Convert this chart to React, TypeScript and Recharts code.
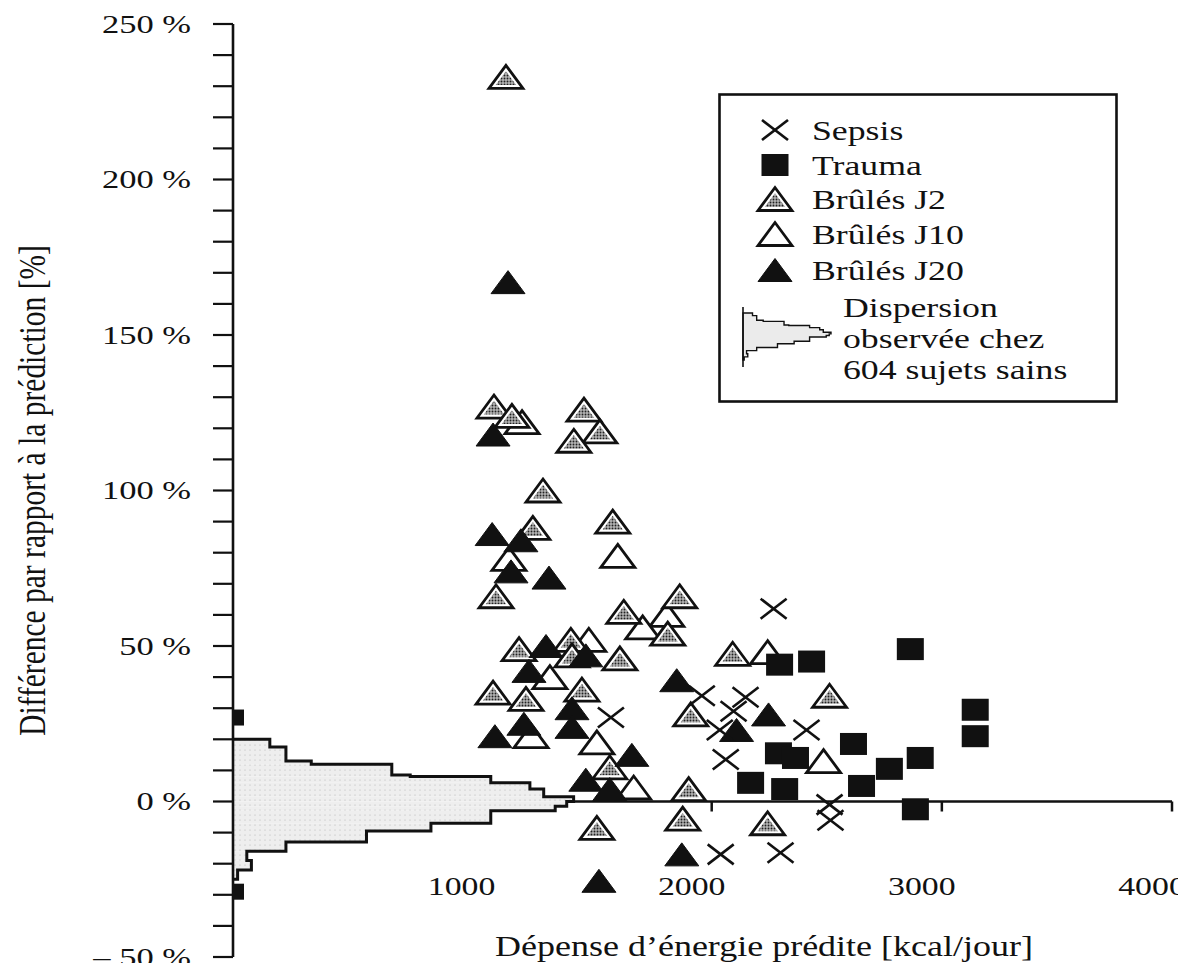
import React from "react";
import { ReferenceArea, ReferenceLine, Scatter, ScatterChart, XAxis, YAxis } from "recharts";

// axis ranges (the y axis sits slightly left of 0 kcal in the original figure)
const X_MIN = -80;
const X_MAX = 4000;
const Y_MIN = -50;
const Y_MAX = 250;

const xTicks = [1000, 2000, 3000, 4000];
const yTicks = [-50, -40, -30, -20, -10, 0, 10, 20, 30, 40, 50, 60, 70, 80, 90, 100, 110, 120, 130, 140, 150, 160, 170, 180, 190, 200, 210, 220, 230, 240, 250];

// Sepsis
const sepsisX = [1562, 1957, 2147, 2095, 2035, 2061, 2269, 2412, 2512, 2516, 2039, 2299];
const sepsisY = [27, 34, 33.5, 29, 23, 13.5, 62, 23, -1, -6, -17, -16.5];

// Trauma
const traumaX = [2295, 2434, 2863, 2290, 2364, 2169, 2317, 2616, 2651, 2772, 2906, 2885, 3145, 3145];
const traumaY = [44, 45, 49, 15.5, 14, 6, 4, 18.5, 5, 10.5, 14, -2.5, 29.5, 21];

// points pushed against the y axis
const edgeY = [27, -29];

// Brûlés J2
const j2X = [1106, 1054, 1132, 1445, 1514, 1401, 1267, 1223, 1570, 1063, 1618, 1861, 1809, 1163, 1388, 1393, 1601, 1050, 1193, 1436, 1909, 1557, 1900, 1501, 1874, 2091, 2512, 2243];
const j2Y = [233, 127, 124, 126, 119, 116, 100, 88, 90, 66, 61, 66, 54, 49, 52, 47, 46, 35, 33, 36, 28, 11, 4, -8.5, -5.5, 47.5, 34, -7];

// Brûlés J10
const j10X = [1176, 1119, 1592, 1805, 1700, 1466, 1297, 1215, 1501, 1661, 2243, 2486];
const j10Y = [122, 78, 79, 60, 56, 52, 40, 21, 19, 4.5, 48, 13];

// Brûlés J20
const j20X = [1115, 1050, 1046, 1171, 1128, 1293, 1280, 1453, 1206, 1393, 1393, 1184, 1058, 1848, 1653, 1453, 1557, 1870, 1510, 2247, 2108];
const j20Y = [167, 118, 86, 84, 74, 72, 50, 47, 42, 30, 24, 25, 21, 39, 15, 7, 4, -17, -25.5, 28, 23];

// healthy-subject dispersion histogram: bin edges (%) and how far each bar reaches
const histEdges = [20, 17.5, 13, 12, 8.5, 8, 6, 4, 1.5, 0, -1.5, -3, -7, -9.5, -13, -16, -19, -22, -25];
const histRight = [80, 150, 260, 610, 690, 1040, 1210, 1270, 1400, 1370, 1320, 1040, 780, 500, 150, -20, 0, -60];

const zip = (xs: number[], ys: number[]) => xs.map((x, i) => ({ x, y: ys[i] }));

const histMax = Math.max(...histRight);
const histOutline = [
  { x: X_MIN, y: histEdges[0] },
  ...histRight.flatMap((r, i) => [
    { x: r, y: histEdges[i] },
    { x: r, y: histEdges[i + 1] },
  ]),
  { x: X_MIN, y: histEdges[histEdges.length - 1] },
];

const INK = "#111";
const FONT = "'Liberation Serif', 'Times New Roman', serif";
const CHART_W = 1178;
const CHART_H = 955;
const MARGIN = { top: 16, right: 14, bottom: 0, left: 0 };
const Y_AXIS_W = 225;
const X_AXIS_H = 6;
const PLOT_H = CHART_H - MARGIN.top - MARGIN.bottom - X_AXIS_H;
const ZERO_Y = MARGIN.top + (PLOT_H * Y_MAX) / (Y_MAX - Y_MIN);

function triPoints(cx: number, cy: number, k = 1) {
  // triangle 34 wide x 23 tall, optionally shrunk about its incentre
  const ic = 2.93;
  const p = [
    [0, -11.5],
    [-17, 11.5],
    [17, 11.5],
  ];
  return p.map(([dx, dy]) => `${cx + dx * k},${cy + ic + (dy - ic) * k}`).join(" ");
}

const Cross = ({ cx, cy }: any) => (
  <g stroke={INK} strokeWidth={2.6}>
    <line x1={cx - 13} y1={cy - 10} x2={cx + 13} y2={cy + 10} />
    <line x1={cx - 13} y1={cy + 10} x2={cx + 13} y2={cy - 10} />
  </g>
);

const Square = ({ cx, cy }: any) => <rect x={cx - 13.5} y={cy - 11} width={27} height={22} fill={INK} />;

const EdgeMark = ({ cx, cy }: any) => <rect x={cx + 1} y={cy - 8} width={10} height={16} fill={INK} />;

const TriDotted = ({ cx, cy }: any) => (
  <g>
    <polygon points={triPoints(cx, cy)} fill="#fff" stroke={INK} strokeWidth={2.8} strokeLinejoin="miter" />
    <polygon points={triPoints(cx, cy, 0.6)} fill="url(#j2dots)" />
  </g>
);

const TriOpen = ({ cx, cy }: any) => (
  <polygon points={triPoints(cx, cy)} fill="#fff" stroke={INK} strokeWidth={2.8} strokeLinejoin="miter" />
);

const TriSolid = ({ cx, cy }: any) => (
  <polygon points={triPoints(cx, cy)} fill={INK} stroke={INK} strokeWidth={1} />
);

const NoDot = () => <g />;

// outline of the histogram, drawn through the points the scatter has already scaled
const HistLine = (props: any) => {
  const pts = (props.points || []).map((p: any) => `${p.x},${p.y}`).join(" ");
  return <polyline points={pts} fill="none" stroke={INK} strokeWidth={3} strokeLinejoin="miter" />;
};

function XTick({ x, payload }: any) {
  const v = payload.value;
  return (
    <g>
      {v > histMax && <line x1={x} x2={x} y1={ZERO_Y} y2={ZERO_Y + 10} stroke={INK} strokeWidth={2.5} />}
      <g transform={`translate(${x - 20},${ZERO_Y + 84}) scale(1.3,1)`}>
        <text textAnchor="middle" dy="0.35em" fontSize={26} fill={INK} fontFamily={FONT}>
          {v}
        </text>
      </g>
    </g>
  );
}

function YTick({ x, y, payload }: any) {
  const v = payload.value;
  if (v % 50 !== 0) return <g />;
  const label = v < 0 ? `– ${-v} %` : `${v} %`;
  return (
    <g transform={`translate(${x},${y}) scale(1.38,1)`}>
      <text textAnchor="end" dy="0.35em" fontSize={25} fill={INK} fontFamily={FONT}>
        {label}
      </text>
    </g>
  );
}

const renderXTitle = () => (
  <g transform={`translate(756,948) scale(1.2,1)`}>
    <text textAnchor="middle" fontSize={30} fill={INK} fontFamily={FONT}>
      Dépense d’énergie prédite [kcal/jour]
    </text>
  </g>
);

const renderYTitle = () => (
  <g transform={`translate(24,${MARGIN.top + PLOT_H / 2}) rotate(-90) scale(1,1.3)`}>
    <text textAnchor="middle" dy="0.35em" fontSize={29.5} fill={INK} fontFamily={FONT}>
      Différence par rapport à la prédiction [%]
    </text>
  </g>
);

const legendRows = [
  { name: "Sepsis", Icon: Cross, y: 37 },
  { name: "Trauma", Icon: Square, y: 72 },
  { name: "Brûlés J2", Icon: TriDotted, y: 106 },
  { name: "Brûlés J10", Icon: TriOpen, y: 141 },
  { name: "Brûlés J20", Icon: TriSolid, y: 177 },
];

function HistIcon() {
  const x0 = 25;
  const y0 = 220;
  const mx = (v: number) => x0 + ((v - X_MIN) / (histMax - X_MIN)) * 88;
  const my = (e: number) =>
    y0 + ((histEdges[0] - e) / (histEdges[0] - histEdges[histEdges.length - 1])) * 47;
  const pts = histOutline.map((p) => `${mx(p.x)},${my(p.y)}`).join(" ");
  return (
    <g>
      <polygon points={pts} fill="#ebebeb" stroke={INK} strokeWidth={1.4} />
      <line x1={x0} x2={x0} y1={y0 - 6} y2={y0 + 54} stroke={INK} strokeWidth={1.6} />
    </g>
  );
}

function LegendBox() {
  const text = (s: string, x: number, y: number) => (
    <g key={s} transform={`translate(${x},${y}) scale(1.3,1)`}>
      <text dy="0.35em" fontSize={27.5} fill={INK} fontFamily={FONT}>
        {s}
      </text>
    </g>
  );
  return (
    <svg width={400} height={312} style={{ position: "absolute", left: 710, top: 85 }}>
      <rect x={1.5} y={1.5} width={397} height={307} fill="#fff" stroke={INK} strokeWidth={2.6} />
      {legendRows.map(({ name, Icon, y }) => (
        <g key={name}>
          <Icon cx={57} cy={y} />
          {text(name, 94, y)}
        </g>
      ))}
      <HistIcon />
      {text("Dispersion", 125, 214)}
      {text("observée chez", 125, 245)}
      {text("604 sujets sains", 125, 276)}
    </svg>
  );
}

export default function App() {
  return (
    <div style={{ position: "relative", width: CHART_W, height: CHART_H, fontFamily: FONT, background: "#fff" }}>
      <svg width={0} height={0} style={{ position: "absolute" }}>
        <defs>
          <pattern id="j2dots" width={3} height={3} patternUnits="userSpaceOnUse">
            <rect width={3} height={3} fill="#b4b4b4" />
            <circle cx={1.5} cy={1.5} r={0.95} fill="#222" />
          </pattern>
          <pattern id="histdots" width={5} height={5} patternUnits="userSpaceOnUse">
            <rect width={5} height={5} fill="#eeeeee" />
            <circle cx={2} cy={2} r={0.6} fill="#b5b5b5" />
          </pattern>
        </defs>
      </svg>
      <ScatterChart width={CHART_W} height={CHART_H} margin={MARGIN}>
        <XAxis
          type="number"
          dataKey="x"
          domain={[X_MIN, X_MAX]}
          ticks={xTicks}
          interval={0}
          axisLine={false}
          tickLine={false}
          height={X_AXIS_H}
          tick={(p: any) => <XTick {...p} />}
          label={renderXTitle}
        />
        <YAxis
          type="number"
          dataKey="y"
          domain={[Y_MIN, Y_MAX]}
          ticks={yTicks}
          interval={0}
          width={Y_AXIS_W}
          axisLine={{ stroke: INK, strokeWidth: 2.6 }}
          tickLine={{ stroke: INK, strokeWidth: 2.2 }}
          tickSize={20}
          tickMargin={22}
          tick={(p: any) => <YTick {...p} />}
          label={renderYTitle}
        />
        {histRight.map((r, i) => (
          <ReferenceArea
            key={i}
            x1={X_MIN}
            x2={r}
            y1={histEdges[i + 1]}
            y2={histEdges[i]}
            fill="url(#histdots)"
            fillOpacity={1}
            stroke="none"
            ifOverflow="visible"
          />
        ))}
        <ReferenceLine
          segment={[
            { x: histMax, y: 0 },
            { x: X_MAX, y: 0 },
          ]}
          stroke={INK}
          strokeWidth={2.6}
          ifOverflow="visible"
        />
        <Scatter
          name="Dispersion"
          data={histOutline}
          line={HistLine}
          lineType="joint"
          shape={NoDot}
          isAnimationActive={false}
        />
        <Scatter name="Brûlés J10" data={zip(j10X, j10Y)} shape={TriOpen} isAnimationActive={false} />
        <Scatter name="Brûlés J2" data={zip(j2X, j2Y)} shape={TriDotted} isAnimationActive={false} />
        <Scatter name="Brûlés J20" data={zip(j20X, j20Y)} shape={TriSolid} isAnimationActive={false} />
        <Scatter name="Trauma" data={zip(traumaX, traumaY)} shape={Square} isAnimationActive={false} />
        <Scatter
          name="Trauma (axe)"
          data={edgeY.map((y) => ({ x: X_MIN, y }))}
          shape={EdgeMark}
          isAnimationActive={false}
        />
        <Scatter name="Sepsis" data={zip(sepsisX, sepsisY)} shape={Cross} isAnimationActive={false} />
      </ScatterChart>
      <LegendBox />
    </div>
  );
}
